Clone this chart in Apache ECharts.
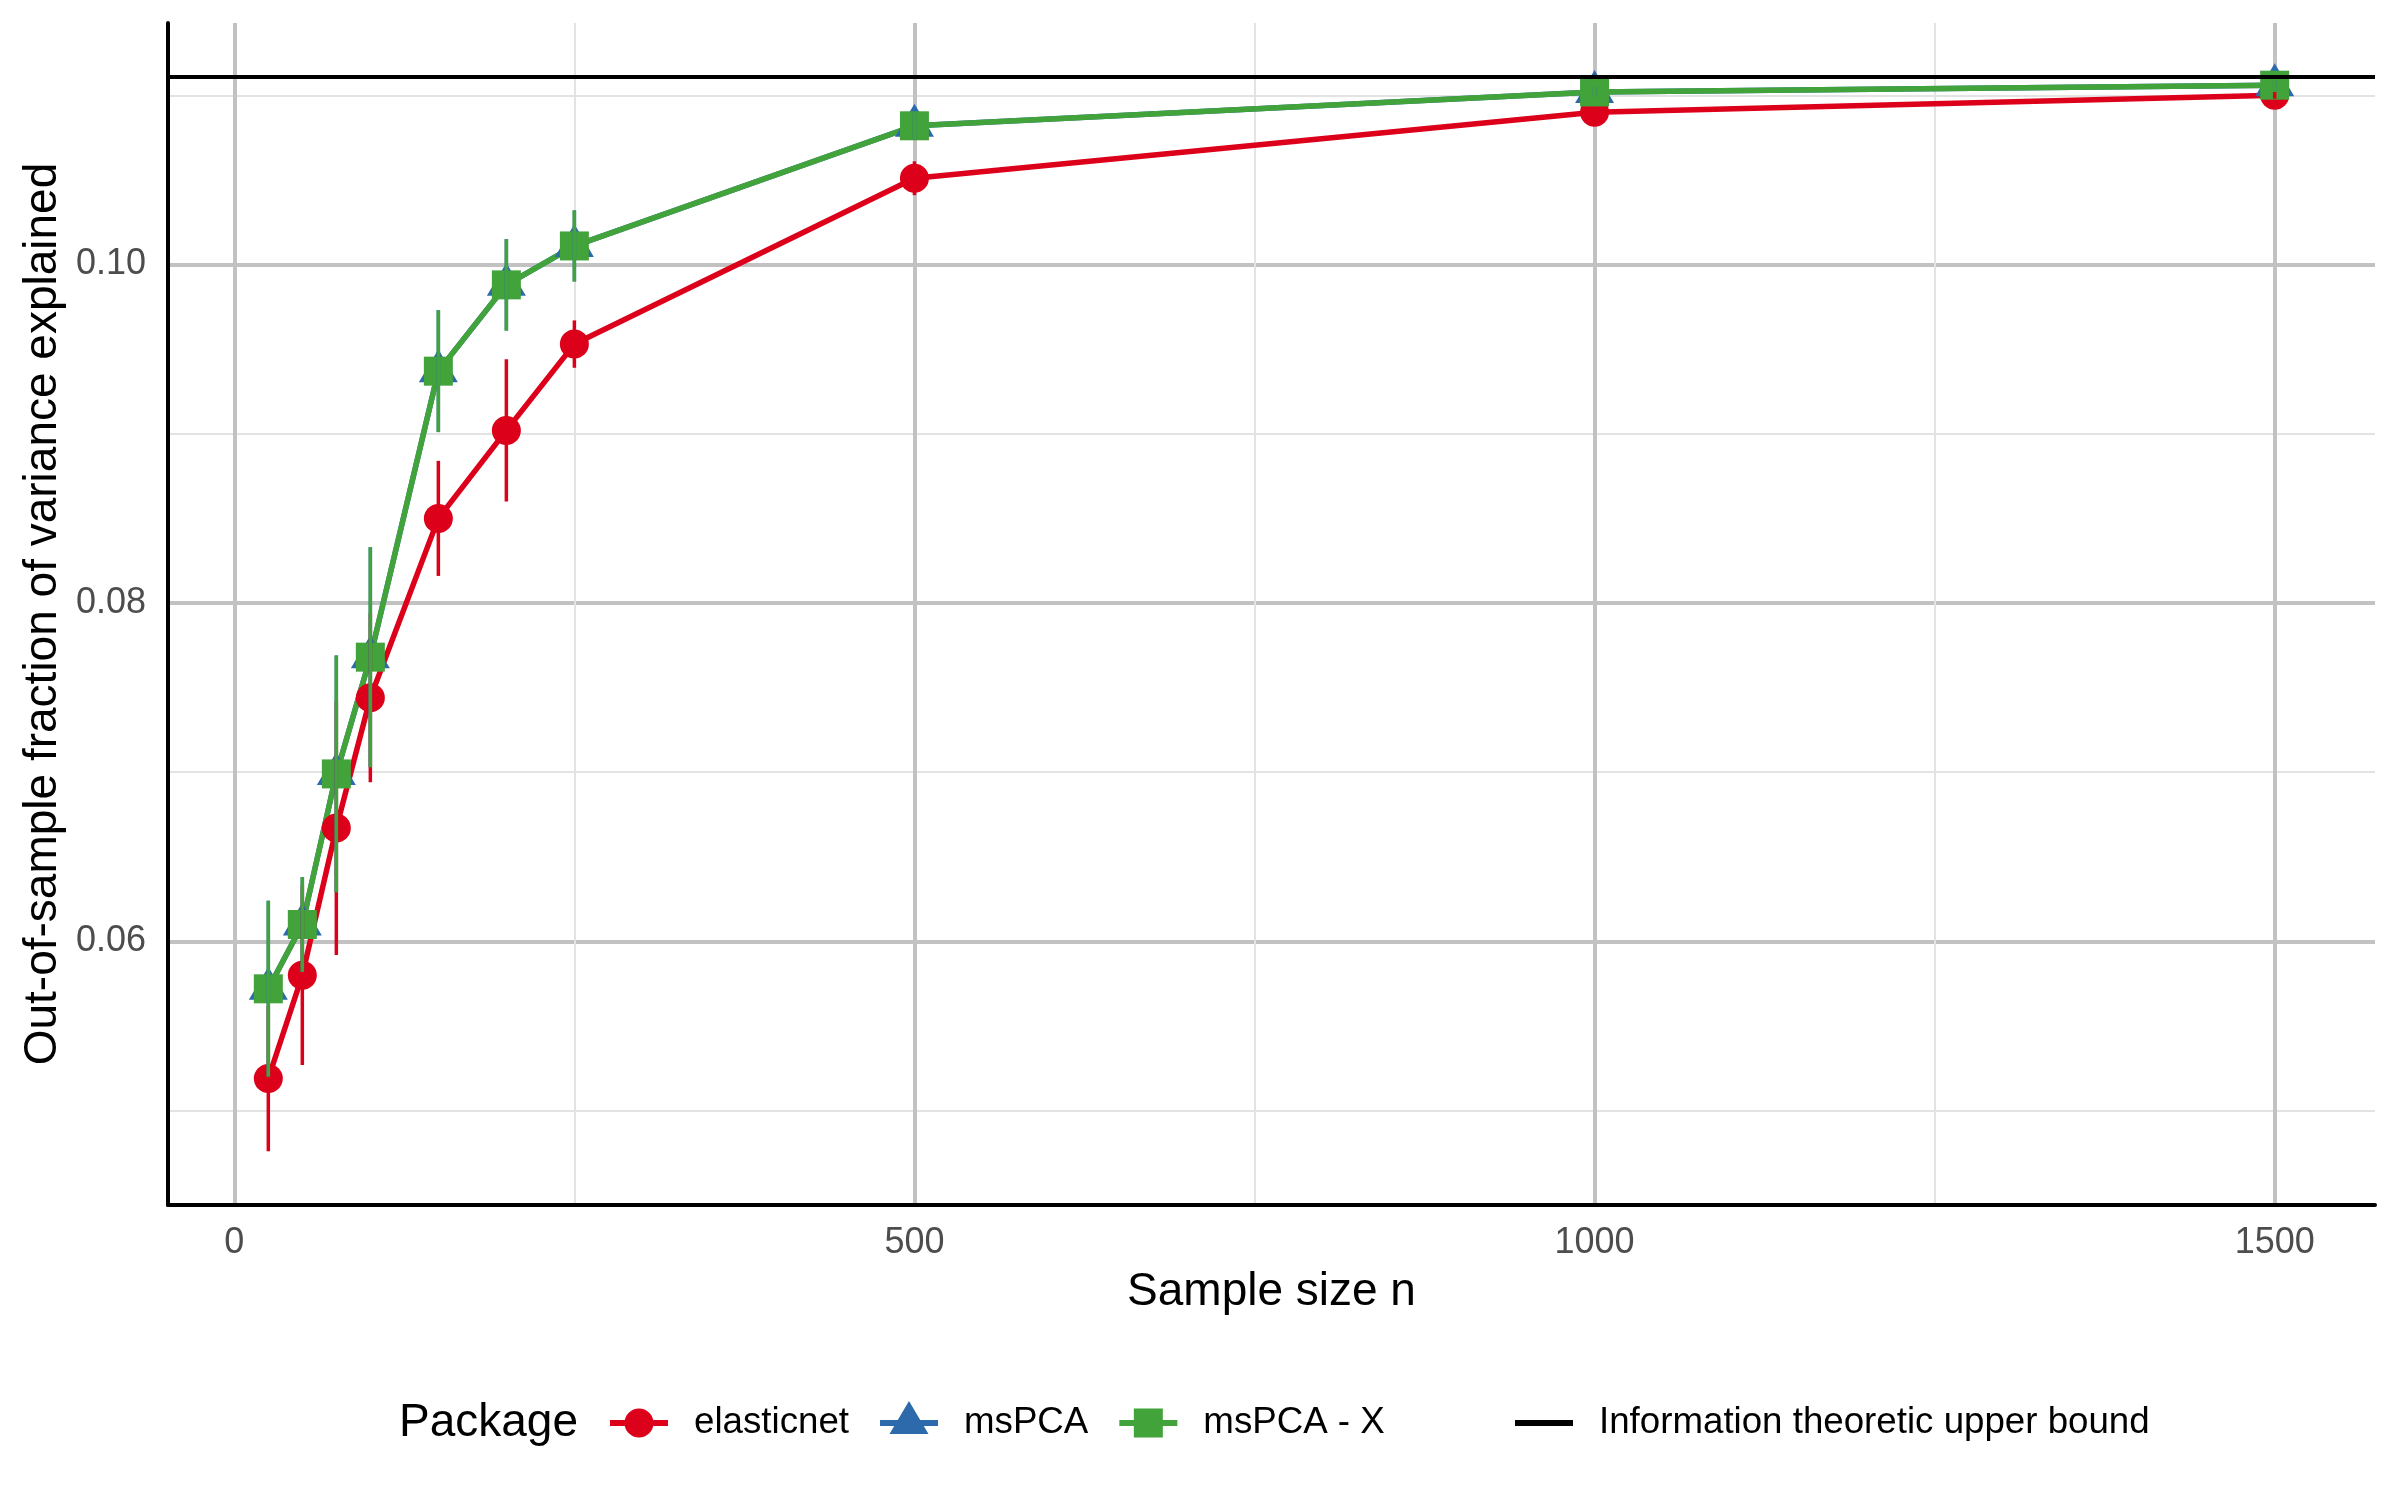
<!DOCTYPE html>
<html>
<head>
<meta charset="utf-8">
<script src="https://cdn.jsdelivr.net/npm/echarts@6/dist/echarts.min.js"></script>
<style>
  html, body { margin: 0; padding: 0; background: #fff; }
  #chart { width: 2400px; height: 1500px; }
</style>
</head>
<body>
<div id="chart"></div>
<script>
// sample sizes
var sizes = [25, 50, 75, 100, 150, 200, 250, 500, 1000, 1500];

// mean out-of-sample fraction of variance explained, and half width of the bars
var elasticnet   = [0.0519, 0.0580, 0.0667, 0.0744, 0.0850, 0.0902, 0.0953, 0.1051, 0.1090, 0.1100];
var elasticnetHw = [0.0043, 0.0053, 0.0075, 0.0050, 0.0034, 0.0042, 0.0014, 0.0010, 0.0003, 0.0002];
var mspca        = [0.0572, 0.0610, 0.0699, 0.0768, 0.0937, 0.0988, 0.1011, 0.1082, 0.1102, 0.1106];
var mspcaHw      = [0.0052, 0.0028, 0.0070, 0.0065, 0.0036, 0.0027, 0.0021, 0.0008, 0.0003, 0.0003];
var mspcaX       = [0.0572, 0.0610, 0.0699, 0.0768, 0.0937, 0.0988, 0.1011, 0.1082, 0.1102, 0.1106];
var mspcaXHw     = [0.0052, 0.0028, 0.0070, 0.0065, 0.0036, 0.0027, 0.0021, 0.0008, 0.0003, 0.0003];

var upperBound = 0.1111;

var xTicks = [0, 500, 1000, 1500];
var xMinorTicks = [250, 750, 1250];
var yTicks = [0.06, 0.08, 0.10];
var yMinorTicks = [0.05, 0.07, 0.09, 0.11];

var packages = ['elasticnet', 'msPCA', 'msPCA - X'];
var colors = ['#dc001a', '#2d6aab', '#41a33a'];

// ggplot style 5% expansion of the data range
var xMin = sizes[0] - 0.05 * (sizes[sizes.length - 1] - sizes[0]);
var xMax = sizes[sizes.length - 1] + 0.05 * (sizes[sizes.length - 1] - sizes[0]);
var lows = [], highs = [upperBound];
[[elasticnet, elasticnetHw], [mspca, mspcaHw], [mspcaX, mspcaXHw]].forEach(function (p) {
    p[0].forEach(function (v, i) { lows.push(v - p[1][i]); highs.push(v + p[1][i]); });
});
var lo = Math.min.apply(null, lows), hi = Math.max.apply(null, highs);
var yMin = lo - 0.05 * (hi - lo), yMax = hi + 0.05 * (hi - lo);

var font = '"Liberation Sans", Arial, sans-serif';

// legend keys: line + point, drawn in a 58x44 box (degenerate points fix the box)
var box = 'M0,0L0,0M58,44L58,44';
var bar = 'M0,19H58V25H0Z';
var icons = [
    'path://' + box + bar + 'M14.5,22A14.5,14.5 0 1 1 43.5,22A14.5,14.5 0 1 1 14.5,22Z',
    'path://' + box + bar + 'M29,0L48.5,33L9.5,33Z',
    'path://' + box + bar + 'M14.5,7.5H43.5V36.5H14.5Z',
    'path://' + box + bar
];
var symbols = ['circle', 'triangle', 'rect'];
var symbolSizes = [29, [39, 33], 29];
var symbolOffsets = [[0, 0], [0, -5.5], [0, 0]];

var means = [elasticnet, mspca, mspcaX];
var hws = [elasticnetHw, mspcaHw, mspcaXHw];

var series = [];
packages.forEach(function (name, k) {
    series.push({
        name: name, type: 'line', z: 2, silent: true,
        symbol: 'none',
        data: sizes.map(function (s, i) { return [s, means[k][i]]; }),
        lineStyle: { color: colors[k], width: 5.5 },
        itemStyle: { color: colors[k] }
    });
});
packages.forEach(function (name, k) {
    series.push({
        name: name, type: 'scatter', z: 3, silent: true,
        symbol: symbols[k], symbolSize: symbolSizes[k], symbolOffset: symbolOffsets[k],
        data: sizes.map(function (s, i) { return [s, means[k][i]]; }),
        itemStyle: { color: colors[k], opacity: 1 }
    });
});
packages.forEach(function (name, k) {
    series.push({
        name: name, type: 'custom', z: 4, silent: true,
        data: sizes.map(function (s, i) { return [s, means[k][i] - hws[k][i], means[k][i] + hws[k][i]]; }),
        encode: { x: 0, y: [1, 2] },
        itemStyle: { color: colors[k] },
        renderItem: function (params, api) {
            var top = api.coord([api.value(0), api.value(2)]);
            var bot = api.coord([api.value(0), api.value(1)]);
            return {
                type: 'line',
                shape: { x1: top[0], y1: top[1], x2: bot[0], y2: bot[1] },
                style: { stroke: colors[k], lineWidth: 3.5 }
            };
        }
    });
});
series.push({
    name: 'Information theoretic upper bound', type: 'line', z: 5, silent: true,
    data: [], symbol: 'none',
    lineStyle: { color: '#000', width: 4 },
    itemStyle: { color: '#000' },
    markLine: {
        silent: true, symbol: ['none', 'none'], label: { show: false }, precision: 6,
        lineStyle: { color: '#000', width: 4, type: 'solid' },
        data: [{ yAxis: upperBound }]
    }
});

var myChart = echarts.init(document.getElementById('chart'));
myChart.setOption({
    animation: false,
    backgroundColor: '#fff',
    grid: { left: 168, right: 25, top: 23, bottom: 295, outerBoundsMode: 'none', containLabel: false },
    xAxis: [{
        type: 'value', min: xMin, max: xMax,
        name: 'Sample size n', nameLocation: 'middle', nameGap: 64, nameMoveOverlap: false,
        nameTextStyle: { fontFamily: font, fontSize: 46, color: '#000' },
        axisLine: { show: true, onZero: false, lineStyle: { color: '#000', width: 4 } },
        axisTick: { show: false, customValues: xTicks },
        axisLabel: {
            customValues: xTicks, margin: 20, fontFamily: font, fontSize: 36, color: '#4d4d4d',
            formatter: function (v) { return String(v); }
        },
        splitLine: { show: true, lineStyle: { color: '#c2c2c2', width: 4 } }
    }, {
        type: 'value', min: xMin, max: xMax, position: 'bottom',
        axisLine: { show: false }, axisTick: { show: false, customValues: xMinorTicks },
        axisLabel: { show: false, customValues: xMinorTicks },
        splitLine: { show: true, lineStyle: { color: '#e3e3e3', width: 2 } }
    }],
    yAxis: [{
        type: 'value', min: yMin, max: yMax,
        name: 'Out-of-sample fraction of variance explained', nameLocation: 'middle', nameGap: 102,
        nameMoveOverlap: false,
        nameTextStyle: { fontFamily: font, fontSize: 46, color: '#000' },
        axisLine: { show: true, onZero: false, lineStyle: { color: '#000', width: 4 } },
        axisTick: { show: false, customValues: yTicks },
        axisLabel: {
            customValues: yTicks, margin: 22, fontFamily: font, fontSize: 36, color: '#4d4d4d',
            formatter: function (v) { return v.toFixed(2); }
        },
        splitLine: { show: true, lineStyle: { color: '#c2c2c2', width: 4 } }
    }, {
        type: 'value', min: yMin, max: yMax, position: 'left',
        axisLine: { show: false }, axisTick: { show: false, customValues: yMinorTicks },
        axisLabel: { show: false, customValues: yMinorTicks },
        splitLine: { show: true, lineStyle: { color: '#e3e3e3', width: 2 } }
    }],
    legend: [{
        left: 605, top: 1396, orient: 'horizontal',
        itemWidth: 58, itemHeight: 44, itemGap: 31, selectedMode: false,
        textStyle: { fontFamily: font, fontSize: 36.7, color: '#000', padding: [0, 0, 0, 21] },
        data: packages.map(function (p, k) { return { name: p, icon: icons[k] }; })
    }, {
        left: 1510, top: 1396, orient: 'horizontal',
        itemWidth: 58, itemHeight: 44, selectedMode: false,
        textStyle: { fontFamily: font, fontSize: 36.7, color: '#000', padding: [0, 0, 0, 21] },
        data: [{ name: 'Information theoretic upper bound', icon: icons[3] }]
    }],
    graphic: [{
        type: 'text', x: 399, y: 1423,
        style: { text: 'Package', font: '46px ' + font, fill: '#000', verticalAlign: 'middle' }
    }],
    series: series
});
</script>
</body>
</html>
